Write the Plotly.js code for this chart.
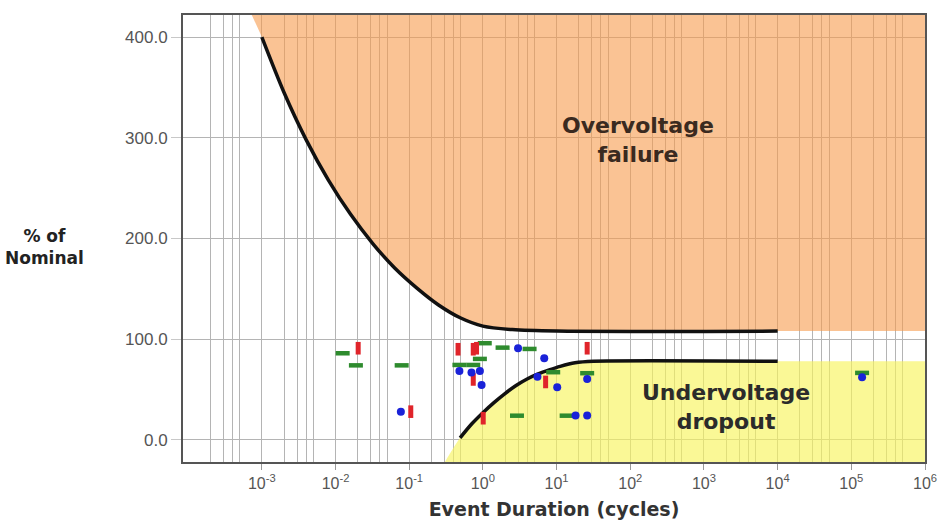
<!DOCTYPE html>
<html>
<head>
<meta charset="utf-8">
<script src="https://cdn.plot.ly/plotly-3.0.1.min.js"></script>
<style>html,body{margin:0;padding:0;background:#fff;}#chart{width:942px;height:521px;}</style>
</head>
<body>
<div id="chart"></div>
<script>
// Overvoltage failure boundary (cycles, % of nominal)
var overX = [0.001, 0.002, 0.004, 0.008, 0.016, 0.032, 0.063, 0.126, 0.25, 0.5, 1, 2.5, 10, 10000];
var overY = [400, 345, 298, 258, 224, 195, 171, 151, 134, 121, 113, 109.5, 108, 108];
// Undervoltage dropout boundary
var underX = [0.49, 0.708, 1, 1.413, 1.995, 2.818, 3.98, 5.62, 7.94, 11.2, 17.8, 31.6, 10000];
var underY = [2, 16, 27, 37, 46, 54, 60.5, 65.5, 69.5, 73, 76.5, 78, 78];

// Measured events
var redX = [0.0203, 0.105, 0.46, 0.74, 0.82, 0.74, 1.01, 7.1, 26];
var redY = [91, 28, 90, 90, 91, 60, 21.5, 57.5, 91];
var greenX = [0.0125, 0.0189, 0.079, 0.48, 0.74, 0.91, 1.06, 1.85, 4.3, 9.0, 26, 2.9, 13.7, 140000];
var greenY = [86, 74, 74, 74.4, 74.4, 80.4, 96, 91.6, 90.3, 67.2, 66.2, 24, 24, 66.5];
var blueX = [0.077, 0.48, 0.70, 0.91, 0.96, 3.0, 5.5, 6.8, 10.2, 18.1, 26, 26, 140000];
var blueY = [28, 68.5, 66.8, 68.5, 54.6, 91, 62.8, 81, 52.3, 24.1, 24.1, 60.5, 62.2];

// Axis ticks
var xTickVals = [1e-3, 1e-2, 1e-1, 1, 10, 100, 1e3, 1e4, 1e5, 1e6];
var xTickText = ['10<sup>-3</sup>', '10<sup>-2</sup>', '10<sup>-1</sup>', '10<sup>0</sup>', '10<sup>1</sup>', '10<sup>2</sup>', '10<sup>3</sup>', '10<sup>4</sup>', '10<sup>5</sup>', '10<sup>6</sup>'];
var minorMult = [2, 3, 4, 5];
var yTickVals = [0, 100, 200, 300, 400];
var yTickText = ['0.0', '100.0', '200.0', '300.0', '400.0'];

var minorVals = [];
for (var e = -5; e <= 6; e++) {
  minorMult.forEach(function (m) { minorVals.push(m * Math.pow(10, e)); });
}

// fill polygons built from the boundary arrays, continued flat past the last
// boundary point and closed outside the visible range
var extX = [1e5, 1e6, 1e7];
var overEnd = overY[overY.length - 1];
var underEnd = underY[underY.length - 1];
var orangeX = [0.00048].concat(overX, extX, [1e7]);
var orangeY = [450].concat(overY, extX.map(function () { return overEnd; }), [450]);
var yellowX = [0.15].concat(underX, extX, [1e7]);
var yellowY = [-60].concat(underY, extX.map(function () { return underEnd; }), [-60]);

var traces = [
  {x: orangeX, y: orangeY, mode: 'lines', fill: 'toself', fillcolor: 'rgba(247,155,77,0.6)',
   line: {width: 0, shape: 'spline', smoothing: 0.8}, hoverinfo: 'skip', showlegend: false},
  {x: yellowX, y: yellowY, mode: 'lines', fill: 'toself', fillcolor: 'rgba(248,245,94,0.65)',
   line: {width: 0, shape: 'spline', smoothing: 0.8}, hoverinfo: 'skip', showlegend: false},
  {x: overX, y: overY, mode: 'lines', line: {color: '#111', width: 3.5, shape: 'spline', smoothing: 0.8}, showlegend: false},
  {x: underX, y: underY, mode: 'lines', line: {color: '#111', width: 3.5, shape: 'spline', smoothing: 0.8}, showlegend: false},
  {x: greenX, y: greenY, mode: 'markers', showlegend: false,
   marker: {symbol: 'line-ew', size: 10, line: {width: 4.5, color: '#2e8b2e'}}},
  {x: redX, y: redY, mode: 'markers', showlegend: false,
   marker: {symbol: 'line-ns', size: 9, line: {width: 5, color: '#e0242a'}}},
  {x: blueX, y: blueY, mode: 'markers', showlegend: false,
   marker: {symbol: 'circle', size: 8, color: '#1a22d8', line: {width: 0}}}
];

var layout = {
  width: 942, height: 521,
  margin: {l: 183, r: 17, t: 15, b: 59},
  paper_bgcolor: '#ffffff', plot_bgcolor: '#ffffff',
  showlegend: false,
  xaxis: {
    type: 'log', range: [-4.07, 6],
    tickmode: 'array', tickvals: xTickVals, ticktext: xTickText,
    tickfont: {family: 'Liberation Sans, Arial, sans-serif', size: 16, color: '#555'},
    ticks: 'outside', ticklen: 6, tickcolor: '#999',
    showgrid: true, gridcolor: '#b4b4b4', gridwidth: 1,
    minor: {tickmode: 'array', tickvals: minorVals, showgrid: true, gridcolor: '#b4b4b4', gridwidth: 1, ticks: ''},
    showline: true, linecolor: '#555', linewidth: 2, mirror: true,
    zeroline: false,
    title: {text: 'Event Duration (cycles)', standoff: 11,
            font: {family: 'DejaVu Sans, sans-serif', size: 19, color: '#333', weight: 'bold'}}
  },
  yaxis: {
    range: [-22, 422],
    tickmode: 'array', tickvals: yTickVals, ticktext: yTickText,
    tickfont: {family: 'Liberation Sans, Arial, sans-serif', size: 17, color: '#555'},
    ticks: 'outside', ticklen: 10, tickcolor: '#c8c8c8',
    showgrid: true, gridcolor: '#b4b4b4', gridwidth: 1,
    showline: true, linecolor: '#555', linewidth: 2, mirror: true,
    zeroline: false
  },
  annotations: [
    {xref: 'paper', yref: 'paper', x: -0.186, y: 0.481, xanchor: 'center', yanchor: 'middle',
     text: '% of<br>Nominal', showarrow: false,
     font: {family: 'DejaVu Sans, sans-serif', size: 17, color: '#222', weight: 'bold'}},
    {xref: 'x', yref: 'y', x: 2.1, y: 298, xanchor: 'center', yanchor: 'middle',
     text: 'Overvoltage<br>failure', showarrow: false,
     font: {family: 'DejaVu Sans, sans-serif', size: 22, color: '#3a2a20', weight: 'bold'}},
    {xref: 'x', yref: 'y', x: 3.3, y: 33, xanchor: 'center', yanchor: 'middle',
     text: 'Undervoltage<br>dropout', showarrow: false,
     font: {family: 'DejaVu Sans, sans-serif', size: 22, color: '#2b2b2b', weight: 'bold'}}
  ]
};

Plotly.newPlot('chart', traces, layout, {displayModeBar: false, staticPlot: true});
</script>
</body>
</html>
